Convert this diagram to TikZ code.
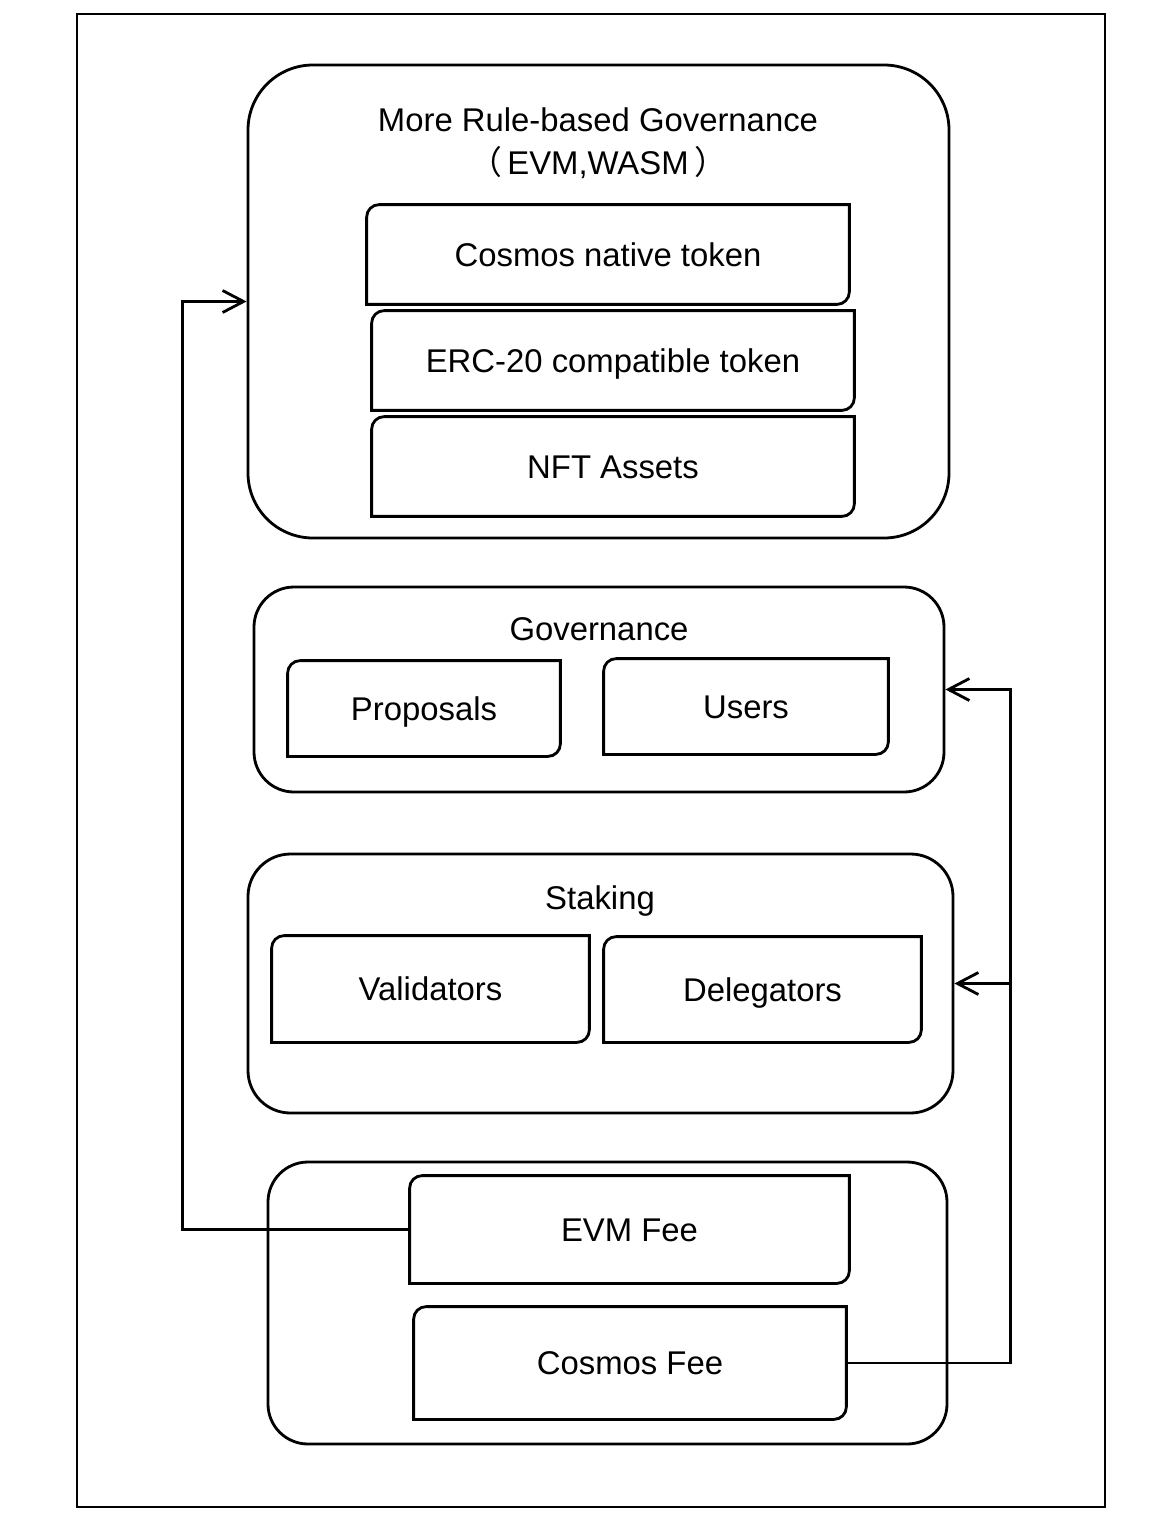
\documentclass[tikz,border=0pt]{standalone}
\usepackage{fontspec}
\setmainfont{Liberation Sans}
\newfontfamily\cjk{Noto Sans CJK SC}
\usetikzlibrary{arrows.meta}
\usetikzlibrary{fit}

\begin{document}
\begin{tikzpicture}[x=0.02cm,y=-0.02cm,line width=1.6pt,
  font=\fontsize{18.7}{22}\selectfont,
  group/.style={draw,inner sep=0pt},
  label/.style={inner sep=0pt,text height=13.5pt,text depth=0pt},
  item/.style={label,minimum width=#1},
  flow/.style={-{Straight Barb[length=0.42cm,width=0.44cm]}}]
\useasboundingbox (0,0) rectangle (1157,1538);
\draw (77,14) rectangle (1105,1507);

% outer groups
\node[group,rounded corners=1.3cm,fit={(248,65) (949,538)}] (rule) {};
\node[group,rounded corners=0.8cm,fit={(254,587) (944,792)}] (gov) {};
\node[group,rounded corners=0.85cm,fit={(248,854) (953,1113)}] (stak) {};
\node[group,rounded corners=0.8cm,fit={(268,1162) (947,1444)}] (fee) {};

% group titles
\node[label] (ruletitle) at (598,120) {More Rule-based Governance};
\node[label] (ruletag) at (598,163) {{\cjk（}\,EVM,WASM\,{\cjk）}};
\node[label] (govtitle) at (599,629) {Governance};
\node[label] (staktitle) at (600,898) {Staking};

% items
\node[item=9.6cm,minimum height=1.94cm] (cnt) at (608,254.5) {Cosmos native token};
\node[item=9.6cm,minimum height=1.94cm] (erc) at (613,360.5) {ERC-20 compatible token};
\node[item=9.6cm,minimum height=1.94cm] (nft) at (613,466.5) {NFT Assets};
\node[item=5.4cm,minimum height=1.86cm] (prop) at (424,708.5) {Proposals};
\node[item=5.64cm,minimum height=1.86cm] (user) at (746,706.5) {Users};
\node[item=6.3cm,minimum height=2.08cm] (vali) at (430.5,989) {Validators};
\node[item=6.3cm,minimum height=2.06cm] (dele) at (762.5,989.5) {Delegators};
\node[item=8.74cm,minimum height=2.1cm] (evm) at (629.5,1229.5) {EVM Fee};
\node[item=8.6cm,minimum height=2.2cm] (cosf) at (630,1363) {Cosmos Fee};

% item frames: rounded at top left and bottom right only
\foreach \n in {cnt,erc,nft,prop,user,vali,dele,evm,cosf} {
  \draw[rounded corners=0.25cm,line cap=rect] (\n.south west) |- (\n.north east);
  \draw[rounded corners=0.25cm,line cap=rect] (\n.north east) |- (\n.south west);
}

% fee flows
\draw[flow] (evm.west) -- ++(-227,0) |- (rule.west);
\draw[flow] (cosf.east) -- ++(164,0) coordinate (split) |- (gov.east);
\draw[flow] (split |- stak.east) -- (stak.east);
\end{tikzpicture}
\end{document}
